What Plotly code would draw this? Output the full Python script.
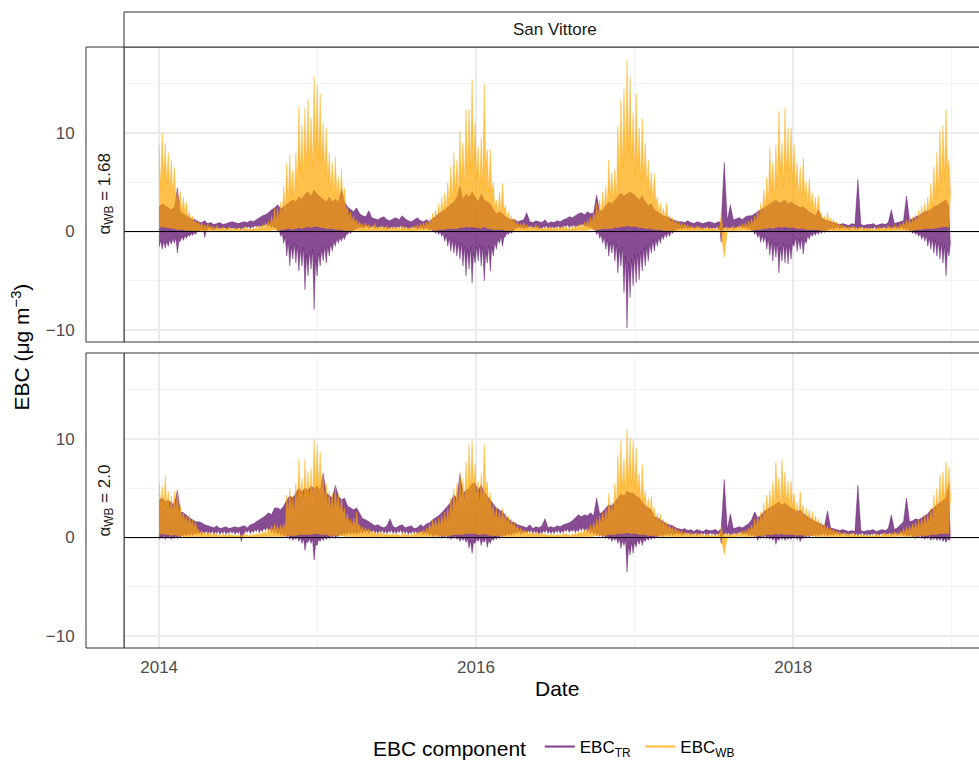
import plotly.graph_objects as go
import pandas as pd

# ---------------- data (one value per week, 261 weeks) ----------------
start_date = "2014-01-01"
# *_hi = weekly maximum, *_lo = weekly minimum, *_typ = typical level between the spikes

# ---- alpha_WB = 1.68 panel ----
wb_hi_168 = [
    8.8, 10.0, 9.0, 8.0, 7.2, 6.5, 4.2, 4.0, 3.5, 3.0, 2.0, 1.6, 1.2,
    1.0, 0.9, 0.7, 0.8, 0.6, 0.5, 0.6, 0.4, 0.5, 0.4, 0.5, 0.3, 0.4,
    0.4, 0.3, 0.5, 0.4, 0.3, 0.4, 0.5, 0.6, 0.7, 0.9, 1.1, 1.6, 2.4,
    2.4, 3.0, 4.6, 6.9, 7.8, 6.2, 8.0, 12.7, 10.8, 12.5, 13.4, 11.5, 15.7,
    14.9, 14.0, 11.0, 10.5, 8.0, 7.0, 7.6, 5.5, 6.3, 4.4, 2.6, 2.0, 1.6,
    1.2, 1.0, 0.8, 0.9, 0.7, 0.6, 0.8, 0.5, 0.6, 0.5, 0.6, 0.4, 0.5,
    0.5, 0.4, 0.6, 0.5, 0.4, 0.5, 0.6, 0.7, 0.8, 0.9, 1.0, 1.3, 1.9,
    2.2, 2.8, 3.5, 3.9, 5.0, 6.6, 8.0, 7.2, 10.2, 9.0, 12.4, 12.4, 15.4,
    11.0, 8.6, 9.5, 14.9, 8.3, 8.3, 5.0, 3.2, 4.0, 4.9, 2.6, 2.0, 1.6,
    1.2, 1.0, 0.8, 0.9, 0.7, 0.6, 0.5, 0.7, 0.5, 0.4, 0.5, 0.4, 0.5,
    0.4, 0.5, 0.4, 0.6, 0.5, 0.4, 0.5, 0.6, 0.7, 0.8, 1.0, 1.2, 1.5,
    2.0, 2.9, 3.2, 4.0, 4.6, 7.3, 6.0, 6.3, 10.7, 13.4, 14.4, 17.4, 15.7,
    12.0, 14.0, 10.5, 11.5, 9.0, 7.3, 6.0, 5.9, 3.5, 2.9, 2.4, 2.9, 1.6,
    1.4, 1.2, 1.0, 0.9, 0.8, 0.7, 0.6, 0.5, 0.6, 0.5, 0.4, 0.5, 0.4,
    0.4, 0.3, 0.5, 1.8, 0.4, 0.5, 0.4, 0.6, 0.5, 0.7, 0.8, 0.9, 1.1,
    1.3, 1.6, 2.2, 2.9, 4.3, 5.5, 8.5, 7.0, 8.8, 12.2, 9.0, 12.5, 10.5,
    10.5, 8.8, 7.0, 6.6, 7.5, 5.0, 5.4, 3.9, 3.5, 3.6, 1.9, 1.6, 1.9,
    1.4, 1.2, 1.0, 0.8, 0.7, 0.6, 0.5, 0.6, 0.5, 0.4, 0.5, 0.4, 0.4,
    0.4, 0.3, 0.4, 0.5, 0.4, 0.5, 0.6, 0.5, 0.7, 0.6, 0.8, 1.0, 1.2,
    1.3, 1.5, 1.7, 2.2, 2.6, 2.9, 3.5, 4.9, 6.6, 8.0, 10.3, 10.7, 12.4,
    7.3,
]
wb_typ_168 = [
    4.5, 5.2, 4.8, 4.0, 3.6, 3.0, 2.4, 2.0, 1.8, 1.4, 1.0, 0.8, 0.6,
    0.5, 0.4, 0.3, 0.3, 0.3, 0.2, 0.2, 0.2, 0.2, 0.2, 0.2, 0.1, 0.2,
    0.2, 0.1, 0.2, 0.2, 0.1, 0.2, 0.2, 0.3, 0.3, 0.4, 0.5, 0.7, 1.0,
    1.2, 1.5, 2.2, 3.0, 3.8, 3.2, 4.5, 6.0, 5.5, 6.5, 7.0, 6.5, 8.0,
    7.5, 7.0, 6.0, 5.0, 4.2, 3.5, 3.6, 2.8, 3.0, 2.0, 1.3, 1.0, 0.8,
    0.6, 0.5, 0.4, 0.4, 0.3, 0.3, 0.3, 0.2, 0.3, 0.2, 0.3, 0.2, 0.2,
    0.2, 0.2, 0.3, 0.2, 0.2, 0.2, 0.3, 0.3, 0.4, 0.4, 0.5, 0.6, 0.9,
    1.1, 1.4, 1.7, 2.0, 2.6, 3.2, 4.0, 3.6, 5.0, 4.6, 6.0, 6.2, 7.0,
    5.5, 4.4, 4.6, 6.5, 4.0, 4.0, 2.4, 1.6, 2.0, 2.2, 1.3, 1.0, 0.8,
    0.6, 0.5, 0.4, 0.4, 0.3, 0.3, 0.2, 0.3, 0.2, 0.2, 0.2, 0.2, 0.2,
    0.2, 0.2, 0.2, 0.3, 0.2, 0.2, 0.2, 0.3, 0.3, 0.4, 0.5, 0.6, 0.7,
    1.0, 1.4, 1.6, 2.0, 2.3, 3.5, 3.0, 3.2, 5.2, 6.5, 7.0, 8.0, 7.5,
    6.0, 6.5, 5.2, 5.5, 4.5, 3.6, 3.0, 2.9, 1.8, 1.4, 1.2, 1.4, 0.8,
    0.7, 0.6, 0.5, 0.4, 0.4, 0.3, 0.3, 0.2, 0.3, 0.2, 0.2, 0.2, 0.2,
    0.2, 0.1, 0.2, 0.3, 0.2, 0.2, 0.2, 0.3, 0.2, 0.3, 0.4, 0.4, 0.5,
    0.6, 0.8, 1.1, 1.4, 2.2, 2.8, 4.2, 3.5, 4.4, 6.0, 4.5, 6.0, 5.2,
    5.2, 4.4, 3.5, 3.3, 3.6, 2.5, 2.6, 2.0, 1.8, 1.8, 1.0, 0.8, 0.9,
    0.7, 0.6, 0.5, 0.4, 0.3, 0.3, 0.2, 0.3, 0.2, 0.2, 0.2, 0.2, 0.2,
    0.2, 0.1, 0.2, 0.2, 0.2, 0.2, 0.3, 0.2, 0.3, 0.3, 0.4, 0.5, 0.6,
    0.6, 0.7, 0.8, 1.1, 1.3, 1.4, 1.8, 2.4, 3.3, 4.0, 5.0, 5.4, 6.0,
    3.5,
]
wb_lo_168 = [
    0.4, 0.5, 0.4, 0.4, 0.3, 0.3, 0.2, 0.2, 0.2, 0.1, 0.1, 0.1, 0.1,
    0.1, 0.0, 0.1, 0.0, 0.0, 0.1, 0.0, 0.0, 0.1, 0.0, 0.0, 0.0, 0.0,
    0.0, 0.0, 0.1, 0.0, 0.0, 0.0, 0.1, 0.0, 0.1, 0.1, 0.1, 0.1, 0.2,
    0.1, 0.2, 0.2, 0.3, 0.3, 0.2, 0.3, 0.4, 0.3, 0.4, 0.5, 0.4, 0.5,
    0.5, 0.4, 0.4, 0.3, 0.3, 0.3, 0.2, 0.2, 0.2, 0.1, 0.1, 0.1, 0.1,
    0.1, 0.0, 0.1, 0.0, 0.0, 0.1, 0.0, 0.0, 0.1, 0.0, 0.0, 0.0, 0.0,
    0.0, 0.0, 0.1, 0.0, 0.0, 0.0, 0.1, 0.0, 0.1, 0.1, 0.1, 0.1, 0.2,
    0.1, 0.2, 0.2, 0.2, 0.3, 0.3, 0.3, 0.3, 0.4, 0.4, 0.5, 0.4, 0.5,
    0.4, 0.4, 0.3, 0.5, 0.3, 0.3, 0.2, 0.2, 0.2, 0.2, 0.1, 0.1, 0.1,
    0.1, 0.0, 0.1, 0.0, 0.0, 0.1, 0.0, 0.0, 0.1, 0.0, 0.0, 0.0, 0.0,
    0.0, 0.0, 0.1, 0.0, 0.0, 0.0, 0.1, 0.0, 0.1, 0.1, 0.1, 0.1, 0.2,
    0.2, 0.2, 0.2, 0.3, 0.3, 0.3, 0.3, 0.4, 0.4, 0.5, 0.5, 0.6, 0.5,
    0.5, 0.5, 0.4, 0.4, 0.3, 0.3, 0.3, 0.2, 0.2, 0.2, 0.1, 0.1, 0.1,
    0.1, 0.0, 0.1, 0.0, 0.0, 0.1, 0.0, 0.0, 0.1, 0.0, 0.0, 0.0, 0.0,
    0.0, 0.0, 0.1, -0.2, -2.6, 0.0, 0.1, 0.0, 0.1, 0.1, 0.1, 0.1, 0.1,
    0.1, 0.2, 0.2, 0.2, 0.3, 0.3, 0.4, 0.3, 0.4, 0.5, 0.4, 0.5, 0.4,
    0.4, 0.4, 0.3, 0.3, 0.3, 0.2, 0.2, 0.2, 0.2, 0.2, 0.1, 0.1, 0.1,
    0.1, 0.0, 0.1, 0.0, 0.0, 0.1, 0.0, 0.0, 0.1, 0.0, 0.0, 0.0, 0.0,
    0.0, 0.0, 0.1, 0.0, 0.0, 0.0, 0.1, 0.0, 0.1, 0.1, 0.1, 0.1, 0.1,
    0.1, 0.1, 0.2, 0.2, 0.2, 0.3, 0.3, 0.3, 0.3, 0.4, 0.4, 0.5, 0.5,
    0.4,
]
tr_hi_168 = [
    2.5, 2.8, 2.6, 2.4, 2.2, 2.5, 4.4, 2.0, 1.8, 1.6, 1.4, 1.2, 1.2,
    1.0, 0.9, 1.1, 0.8, 0.9, 0.7, 0.8, 0.9, 0.7, 0.8, 0.9, 1.0, 0.9,
    0.8, 0.9, 1.0, 0.9, 1.1, 1.0, 1.2, 1.4, 1.6, 1.7, 1.9, 2.2, 2.4,
    2.7, 2.3, 2.5, 2.8, 3.0, 3.2, 3.0, 3.5, 3.3, 3.8, 4.0, 3.6, 4.2,
    3.8, 3.5, 3.2, 3.0, 3.5, 3.0, 3.3, 3.0, 4.3, 3.0, 2.5, 2.2, 2.0,
    2.4, 1.8, 1.6, 1.5, 2.1, 1.4, 1.3, 1.2, 1.4, 1.5, 1.2, 1.1, 1.3,
    1.4, 1.2, 1.6, 1.3, 1.1, 1.0, 1.2, 1.4, 1.1, 1.0, 1.2, 1.0, 1.3,
    1.5, 1.8, 2.0, 2.2, 2.5, 2.8, 3.0, 3.5, 4.6, 3.2, 3.8, 3.5, 4.0,
    3.5, 3.0, 3.8, 3.2, 3.0, 2.8, 2.2, 1.8, 2.0, 1.8, 1.5, 1.3, 1.2,
    1.2, 1.0, 1.1, 1.2, 1.9, 1.0, 0.9, 1.1, 1.0, 0.9, 1.2, 0.8, 1.0,
    0.9, 1.1, 1.0, 1.2, 1.3, 1.5, 1.4, 1.6, 1.8, 1.9, 1.7, 2.0, 1.8,
    1.9, 3.7, 2.0, 2.2, 2.6, 3.0, 2.8, 3.2, 3.5, 3.9, 3.6, 3.8, 4.0,
    3.8, 3.5, 3.2, 3.6, 3.0, 2.6, 2.8, 2.2, 2.0, 1.8, 1.6, 1.5, 1.4,
    1.2, 1.1, 1.0, 1.0, 0.9, 1.1, 0.9, 0.8, 1.0, 0.9, 0.8, 0.9, 1.0,
    0.9, 0.8, 1.0, 0.9, 7.0, 1.1, 2.7, 1.2, 1.3, 1.4, 1.2, 1.5, 1.6,
    1.6, 1.8, 2.0, 2.2, 2.4, 2.6, 2.8, 3.0, 3.2, 2.9, 3.0, 3.2, 2.8,
    3.0, 2.8, 2.6, 2.4, 2.5, 2.2, 2.0, 1.8, 1.6, 2.2, 1.4, 1.2, 1.1,
    1.0, 0.9, 0.8, 0.7, 0.8, 0.7, 0.6, 0.8, 0.7, 5.3, 0.7, 0.6, 0.7,
    0.7, 0.8, 0.6, 0.7, 0.8, 0.7, 0.9, 2.2, 0.8, 0.9, 1.0, 1.1, 3.6,
    1.2, 1.3, 1.5, 1.6, 1.8, 2.0, 2.1, 2.2, 2.5, 2.6, 2.8, 3.0, 3.2,
    2.5,
]
tr_typ_168 = [
    -0.9, -1.0, -1.0, -0.8, -0.7, -0.6, -1.0, -0.5, -0.4, -0.3, -0.2, -0.1, 0.0,
    0.2, 0.3, 0.1, 0.4, 0.3, 0.3, 0.4, 0.4, 0.4, 0.3, 0.4, 0.4, 0.3,
    0.4, 0.4, 0.5, 0.5, 0.5, 0.6, 0.6, 0.6, 0.7, 0.8, 0.7, 0.6, 0.5,
    0.2, -0.2, -0.5, -1.0, -1.5, -1.2, -1.4, -1.8, -1.6, -2.4, -2.0, -1.8, -2.8,
    -2.2, -1.8, -1.5, -1.5, -1.2, -1.0, -0.7, -0.6, -0.5, -0.3, 0.0, 0.1, 0.3,
    0.5, 0.5, 0.5, 0.6, 0.5, 0.6, 0.5, 0.5, 0.6, 0.5, 0.4, 0.5, 0.5,
    0.5, 0.6, 0.5, 0.5, 0.4, 0.5, 0.5, 0.4, 0.5, 0.4, 0.4, 0.3, 0.2,
    0.1, 0.0, -0.2, -0.4, -0.6, -0.8, -1.0, -1.1, -1.2, -1.5, -1.8, -1.6, -2.2,
    -1.5, -1.3, -1.5, -2.0, -1.4, -1.6, -1.1, -0.8, -0.5, -0.6, -0.1, 0.0, 0.1,
    0.4, 0.5, 0.5, 0.4, 0.5, 0.6, 0.5, 0.5, 0.4, 0.5, 0.6, 0.5, 0.5,
    0.5, 0.6, 0.5, 0.6, 0.7, 0.6, 0.7, 0.6, 0.7, 0.8, 0.7, 0.6, 0.5,
    0.3, 0.0, -0.3, -0.5, -0.8, -1.1, -1.0, -1.3, -1.8, -1.5, -2.5, -3.2, -2.8,
    -2.4, -2.2, -2.0, -1.7, -1.5, -1.2, -0.9, -0.8, -0.6, -0.4, -0.2, -0.1, 0.0,
    0.1, 0.3, 0.4, 0.4, 0.5, 0.4, 0.5, 0.4, 0.5, 0.4, 0.4, 0.5, 0.4,
    0.4, 0.5, 0.4, 0.2, 0.5, 0.4, 0.5, 0.4, 0.5, 0.6, 0.5, 0.5, 0.4,
    0.2, 0.0, -0.2, -0.4, -0.4, -0.7, -1.0, -1.2, -1.1, -1.6, -1.2, -1.3, -1.4,
    -1.2, -0.6, -0.8, -0.7, -0.9, -0.4, -0.2, -0.1, 0.0, 0.1, 0.1, 0.2, 0.3,
    0.4, 0.4, 0.5, 0.4, 0.5, 0.4, 0.4, 0.5, 0.4, 0.4, 0.5, 0.4, 0.4,
    0.4, 0.5, 0.4, 0.4, 0.5, 0.4, 0.5, 0.4, 0.5, 0.4, 0.5, 0.4, 0.3,
    0.2, 0.0, -0.1, -0.2, -0.3, -0.4, -0.6, -0.7, -0.9, -1.0, -1.2, -1.4, -1.8,
    -1.0,
]
tr_lo_168 = [
    -1.6, -1.8, -1.7, -1.5, -1.3, -1.2, -2.2, -1.0, -0.9, -0.7, -0.5, -0.4, -0.3,
    0.0, 0.1, -0.6, 0.2, 0.2, 0.1, 0.3, 0.2, 0.3, 0.2, 0.3, 0.3, 0.2,
    0.3, 0.2, 0.3, 0.4, 0.3, 0.4, 0.5, 0.4, 0.5, 0.6, 0.5, 0.4, 0.3,
    0.0, -0.5, -1.2, -2.5, -3.5, -2.8, -3.2, -4.0, -3.5, -5.9, -4.5, -3.8, -7.9,
    -4.5, -3.5, -3.0, -3.2, -2.5, -2.0, -1.5, -1.2, -1.0, -0.8, -0.3, -0.2, 0.1,
    0.2, 0.3, 0.3, 0.4, 0.3, 0.4, 0.3, 0.3, 0.4, 0.3, 0.2, 0.3, 0.3,
    0.3, 0.4, 0.3, 0.3, 0.2, 0.3, 0.3, 0.2, 0.3, 0.2, 0.3, 0.1, 0.0,
    -0.2, -0.3, -0.5, -1.0, -1.5, -2.0, -2.2, -2.5, -2.8, -3.5, -4.5, -3.8, -5.2,
    -3.2, -3.0, -3.5, -5.0, -3.2, -4.0, -2.5, -1.8, -1.2, -1.5, -0.5, -0.3, -0.2,
    0.2, 0.3, 0.3, 0.2, 0.3, 0.4, 0.3, 0.3, 0.2, 0.3, 0.4, 0.3, 0.3,
    0.3, 0.4, 0.3, 0.4, 0.5, 0.4, 0.5, 0.4, 0.5, 0.6, 0.5, 0.4, 0.3,
    0.1, -0.3, -0.7, -1.2, -1.8, -2.5, -2.2, -3.0, -4.2, -3.5, -6.2, -9.8, -6.7,
    -5.5, -5.2, -4.9, -4.0, -3.5, -3.0, -2.2, -2.0, -1.5, -1.2, -0.8, -0.6, -0.5,
    -0.2, 0.1, 0.2, 0.2, 0.3, 0.2, 0.3, 0.2, 0.3, 0.2, 0.2, 0.3, 0.2,
    0.2, 0.3, 0.2, -1.1, 0.3, 0.2, 0.3, 0.2, 0.3, 0.4, 0.3, 0.3, 0.2,
    0.0, -0.3, -0.6, -1.1, -1.1, -1.8, -2.4, -3.0, -2.6, -4.2, -3.0, -3.2, -3.3,
    -2.8, -1.5, -2.0, -1.8, -2.3, -1.2, -0.8, -0.5, -0.4, -0.3, -0.2, -0.1, 0.1,
    0.2, 0.2, 0.3, 0.2, 0.3, 0.2, 0.2, 0.3, 0.2, 0.2, 0.3, 0.2, 0.2,
    0.2, 0.3, 0.2, 0.2, 0.3, 0.2, 0.3, 0.2, 0.3, 0.2, 0.3, 0.2, 0.1,
    0.0, -0.2, -0.3, -0.5, -0.8, -1.0, -1.5, -1.8, -2.2, -2.5, -2.8, -3.2, -4.5,
    -2.5,
]

# ---- alpha_WB = 2.0 panel ----
wb_hi_20 = [
    5.7, 5.2, 6.2, 4.7, 4.2, 4.7, 4.8, 3.2, 2.6, 2.2, 2.3, 1.8, 1.6,
    0.8, 0.7, 0.5, 0.6, 0.4, 0.5, 0.4, 0.3, 0.4, 0.3, 0.4, 0.3, 0.3,
    0.3, 0.3, 0.4, 0.3, 0.3, 0.4, 0.4, 0.5, 0.6, 0.7, 0.9, 1.2, 1.4,
    1.2, 1.3, 1.4, 4.3, 5.0, 4.2, 5.5, 7.9, 6.0, 7.9, 6.7, 7.0, 9.9,
    9.4, 8.7, 6.5, 5.5, 4.7, 4.5, 5.3, 4.4, 4.0, 3.0, 2.4, 1.9, 2.0,
    2.6, 1.3, 1.1, 1.0, 0.9, 0.7, 0.6, 0.5, 0.6, 0.4, 0.5, 0.4, 0.4,
    0.4, 0.3, 0.5, 0.4, 0.3, 0.4, 0.5, 0.6, 0.7, 0.8, 1.0, 1.4, 1.8,
    1.8, 2.0, 2.3, 2.6, 3.0, 4.0, 5.0, 5.5, 6.7, 6.0, 7.7, 9.4, 9.8,
    7.5, 5.7, 6.5, 9.4, 5.7, 4.5, 3.3, 3.0, 2.8, 3.0, 2.5, 2.2, 1.9,
    1.5, 1.2, 1.0, 0.8, 0.7, 0.6, 0.5, 0.6, 0.4, 0.5, 0.4, 0.3, 0.4,
    0.3, 0.4, 0.3, 0.5, 0.4, 0.3, 0.4, 0.5, 0.6, 0.7, 0.8, 1.0, 1.3,
    1.5, 1.9, 2.2, 2.6, 3.0, 4.5, 3.6, 5.5, 8.4, 9.8, 8.0, 11.0, 10.1,
    9.8, 9.1, 6.5, 7.4, 4.7, 4.0, 4.2, 3.0, 2.5, 2.4, 1.9, 1.6, 1.3,
    1.1, 1.0, 0.8, 0.7, 0.6, 0.5, 0.5, 0.4, 0.5, 0.4, 0.3, 0.4, 0.3,
    0.3, 0.3, 0.4, 1.1, 0.4, 0.4, 0.3, 0.5, 0.4, 0.6, 0.7, 0.8, 1.0,
    1.3, 1.9, 2.2, 2.6, 3.5, 4.3, 4.8, 5.7, 7.7, 6.0, 7.9, 6.7, 5.7,
    5.7, 4.5, 3.6, 4.7, 3.3, 3.0, 2.8, 2.6, 2.2, 1.9, 1.6, 1.4, 1.2,
    1.0, 0.9, 0.7, 0.6, 0.5, 0.5, 0.4, 0.5, 0.4, 0.3, 0.4, 0.3, 0.3,
    0.3, 0.3, 0.4, 0.3, 0.4, 0.5, 0.4, 0.5, 0.6, 0.5, 0.7, 0.9, 1.1,
    1.2, 1.4, 1.6, 1.8, 2.0, 2.3, 2.4, 3.0, 4.3, 5.0, 6.4, 6.7, 7.7,
    7.2,
]
wb_typ_20 = [
    3.2, 2.8, 3.2, 2.6, 2.4, 2.6, 2.5, 1.8, 1.5, 1.2, 1.2, 1.0, 0.8,
    0.4, 0.3, 0.2, 0.3, 0.2, 0.2, 0.2, 0.1, 0.2, 0.1, 0.2, 0.1, 0.1,
    0.1, 0.1, 0.2, 0.1, 0.1, 0.2, 0.2, 0.2, 0.3, 0.3, 0.4, 0.6, 0.7,
    0.6, 0.7, 0.8, 2.4, 2.8, 2.4, 3.0, 4.2, 3.4, 4.2, 3.6, 3.8, 5.0,
    5.0, 4.6, 3.6, 3.0, 2.6, 2.5, 2.8, 2.4, 2.2, 1.6, 1.3, 1.0, 1.0,
    1.2, 0.7, 0.6, 0.5, 0.4, 0.3, 0.3, 0.2, 0.3, 0.2, 0.2, 0.2, 0.2,
    0.2, 0.1, 0.2, 0.2, 0.1, 0.2, 0.2, 0.3, 0.3, 0.4, 0.5, 0.7, 0.9,
    0.9, 1.0, 1.2, 1.4, 1.6, 2.2, 2.8, 3.0, 3.6, 3.3, 4.0, 4.8, 5.0,
    4.0, 3.2, 3.5, 4.8, 3.1, 2.5, 1.8, 1.6, 1.5, 1.6, 1.3, 1.1, 1.0,
    0.8, 0.6, 0.5, 0.4, 0.3, 0.3, 0.2, 0.3, 0.2, 0.2, 0.2, 0.1, 0.2,
    0.1, 0.2, 0.1, 0.2, 0.2, 0.1, 0.2, 0.2, 0.3, 0.3, 0.4, 0.5, 0.6,
    0.8, 1.0, 1.2, 1.4, 1.6, 2.4, 2.0, 2.8, 4.2, 4.8, 4.2, 5.4, 5.2,
    5.0, 4.6, 3.5, 3.8, 2.6, 2.2, 2.3, 1.6, 1.3, 1.2, 1.0, 0.8, 0.7,
    0.5, 0.5, 0.4, 0.3, 0.3, 0.2, 0.2, 0.2, 0.2, 0.2, 0.1, 0.2, 0.1,
    0.1, 0.1, 0.2, 0.3, 0.2, 0.2, 0.1, 0.2, 0.2, 0.3, 0.3, 0.4, 0.5,
    0.7, 1.0, 1.2, 1.4, 1.9, 2.3, 2.6, 3.0, 4.0, 3.2, 4.0, 3.5, 3.0,
    3.0, 2.4, 2.0, 2.5, 1.8, 1.6, 1.5, 1.4, 1.2, 1.0, 0.8, 0.7, 0.6,
    0.5, 0.4, 0.3, 0.3, 0.2, 0.2, 0.2, 0.2, 0.2, 0.1, 0.2, 0.1, 0.1,
    0.1, 0.1, 0.2, 0.1, 0.2, 0.2, 0.2, 0.2, 0.3, 0.2, 0.3, 0.4, 0.5,
    0.6, 0.7, 0.8, 0.9, 1.0, 1.2, 1.3, 1.6, 2.3, 2.7, 3.4, 3.6, 4.0,
    3.8,
]
wb_lo_20 = [
    0.3, 0.4, 0.3, 0.3, 0.2, 0.3, 0.2, 0.2, 0.1, 0.1, 0.1, 0.1, 0.1,
    0.1, 0.0, 0.1, 0.0, 0.0, 0.1, 0.0, 0.0, 0.1, 0.0, 0.0, 0.0, 0.0,
    0.0, 0.0, 0.1, 0.0, 0.0, 0.0, 0.1, 0.0, 0.1, 0.1, 0.1, 0.1, 0.1,
    0.1, 0.1, 0.1, 0.2, 0.2, 0.2, 0.2, 0.3, 0.3, 0.3, 0.3, 0.3, 0.4,
    0.4, 0.3, 0.3, 0.3, 0.2, 0.2, 0.2, 0.2, 0.2, 0.1, 0.1, 0.1, 0.1,
    0.1, 0.0, 0.1, 0.0, 0.0, 0.1, 0.0, 0.0, 0.1, 0.0, 0.0, 0.0, 0.0,
    0.0, 0.0, 0.1, 0.0, 0.0, 0.0, 0.1, 0.0, 0.1, 0.1, 0.1, 0.1, 0.1,
    0.1, 0.1, 0.2, 0.2, 0.2, 0.2, 0.3, 0.3, 0.3, 0.3, 0.4, 0.4, 0.4,
    0.4, 0.3, 0.3, 0.4, 0.3, 0.2, 0.2, 0.2, 0.2, 0.1, 0.1, 0.1, 0.1,
    0.1, 0.0, 0.1, 0.0, 0.0, 0.1, 0.0, 0.0, 0.1, 0.0, 0.0, 0.0, 0.0,
    0.0, 0.0, 0.1, 0.0, 0.0, 0.0, 0.1, 0.0, 0.1, 0.1, 0.1, 0.1, 0.1,
    0.1, 0.2, 0.2, 0.2, 0.2, 0.3, 0.3, 0.3, 0.4, 0.4, 0.4, 0.5, 0.4,
    0.4, 0.4, 0.3, 0.3, 0.3, 0.2, 0.2, 0.2, 0.2, 0.1, 0.1, 0.1, 0.1,
    0.1, 0.0, 0.1, 0.0, 0.0, 0.1, 0.0, 0.0, 0.1, 0.0, 0.0, 0.0, 0.0,
    0.0, 0.0, 0.1, -0.1, -1.7, 0.0, 0.1, 0.0, 0.1, 0.1, 0.1, 0.1, 0.1,
    0.1, 0.1, 0.2, 0.2, 0.2, 0.3, 0.3, 0.3, 0.4, 0.3, 0.4, 0.3, 0.3,
    0.3, 0.3, 0.2, 0.3, 0.2, 0.2, 0.2, 0.2, 0.1, 0.1, 0.1, 0.1, 0.1,
    0.1, 0.0, 0.1, 0.0, 0.0, 0.1, 0.0, 0.0, 0.1, 0.0, 0.0, 0.0, 0.0,
    0.0, 0.0, 0.1, 0.0, 0.0, 0.0, 0.1, 0.0, 0.1, 0.1, 0.1, 0.1, 0.1,
    0.1, 0.1, 0.1, 0.2, 0.2, 0.2, 0.2, 0.3, 0.3, 0.3, 0.4, 0.4, 0.4,
    0.4,
]
tr_hi_20 = [
    3.8, 4.0, 3.6, 3.8, 3.5, 3.4, 4.8, 2.6, 2.5, 2.2, 2.0, 1.8, 1.6,
    1.6, 1.5, 1.3, 1.2, 1.1, 1.0, 1.2, 0.9, 1.0, 1.1, 0.9, 1.0, 1.1,
    1.0, 1.1, 1.2, 1.0, 1.3, 1.4, 1.6, 1.8, 2.0, 2.2, 2.5, 2.3, 3.0,
    3.0, 2.8, 3.2, 3.8, 4.2, 4.0, 4.5, 5.0, 4.6, 5.0, 4.8, 5.2, 5.0,
    5.2, 4.8, 6.5, 4.5, 4.2, 4.0, 5.3, 4.2, 3.8, 4.0, 3.2, 3.0, 2.8,
    3.0, 2.4, 1.9, 1.8, 1.6, 1.4, 1.2, 1.3, 1.1, 1.0, 1.2, 1.9, 1.1,
    1.0, 1.2, 1.3, 1.0, 1.1, 1.2, 0.9, 1.0, 1.3, 1.1, 1.4, 1.5, 1.8,
    2.0, 2.2, 2.5, 2.8, 3.2, 3.6, 4.3, 4.0, 6.4, 4.5, 4.8, 5.0, 5.5,
    5.5, 4.8, 5.3, 4.6, 4.2, 3.8, 3.4, 3.0, 2.8, 2.6, 2.2, 1.9, 1.6,
    1.5, 1.3, 1.2, 1.1, 1.0, 1.3, 0.9, 1.1, 1.0, 1.2, 1.9, 1.0, 1.1,
    1.0, 1.2, 1.1, 1.3, 1.4, 1.5, 1.7, 2.0, 2.3, 2.1, 2.3, 2.2, 2.5,
    2.2, 4.0, 2.4, 2.6, 3.0, 3.3, 3.2, 3.6, 4.0, 4.4, 4.2, 4.7, 4.5,
    4.5, 4.2, 4.0, 3.6, 3.2, 3.0, 2.8, 2.1, 2.0, 1.8, 1.6, 1.4, 1.3,
    1.2, 1.0, 0.9, 0.8, 0.9, 0.7, 0.8, 0.6, 0.8, 0.7, 0.6, 0.8, 0.7,
    0.7, 0.8, 0.6, 0.9, 5.9, 0.8, 2.4, 0.9, 1.0, 1.1, 1.0, 1.2, 1.4,
    1.8, 2.6, 2.0, 2.2, 2.6, 2.8, 3.0, 3.2, 3.4, 3.6, 3.3, 3.5, 3.2,
    3.0, 2.8, 2.6, 2.8, 2.4, 2.2, 2.0, 1.8, 1.6, 1.5, 1.3, 1.2, 2.7,
    1.0, 0.9, 0.8, 0.7, 0.8, 0.7, 0.6, 0.7, 0.6, 5.3, 0.7, 0.6, 0.7,
    0.7, 0.8, 0.6, 0.7, 0.8, 0.7, 0.9, 2.3, 0.8, 1.0, 1.3, 1.6, 4.0,
    1.6, 1.7, 1.9, 1.8, 2.0, 2.2, 2.4, 2.8, 3.0, 3.3, 3.6, 3.8, 4.0,
    5.5,
]
tr_typ_20 = [
    0.1, 0.2, 0.1, 0.2, 0.1, 0.2, 0.2, 0.3, 0.4, 0.4, 0.5, 0.5, 0.6,
    0.6, 0.6, 0.7, 0.6, 0.7, 0.6, 0.7, 0.6, 0.7, 0.6, 0.7, 0.7, 0.6,
    0.7, 0.3, 0.7, 0.8, 0.7, 0.8, 0.9, 0.8, 1.0, 1.1, 1.0, 0.9, 0.8,
    0.6, 0.5, 0.4, 0.3, 0.1, 0.0, 0.1, 0.0, -0.1, -0.4, -0.1, -0.2, -0.7,
    -0.2, 0.0, 0.1, 0.1, 0.2, 0.3, 0.2, 0.4, 0.5, 0.5, 0.6, 0.6, 0.6,
    0.6, 0.7, 0.7, 0.8, 0.7, 0.8, 0.7, 0.7, 0.8, 0.7, 0.7, 0.8, 0.7,
    0.7, 0.8, 0.7, 0.7, 0.6, 0.7, 0.7, 0.6, 0.7, 0.6, 0.6, 0.5, 0.4,
    0.4, 0.3, 0.2, 0.3, 0.2, 0.1, 0.2, 0.1, 0.0, 0.0, -0.1, -0.3, -0.5,
    -0.1, 0.0, -0.2, 0.0, -0.3, -0.1, 0.1, 0.2, 0.3, 0.3, 0.4, 0.5, 0.5,
    0.6, 0.7, 0.6, 0.7, 0.7, 0.8, 0.7, 0.7, 0.6, 0.7, 0.8, 0.7, 0.7,
    0.7, 0.8, 0.7, 0.8, 0.9, 0.8, 0.9, 0.8, 1.0, 1.1, 1.0, 0.9, 0.8,
    0.6, 0.5, 0.4, 0.3, 0.2, 0.1, 0.0, 0.0, -0.1, -0.3, -0.2, -0.9, -0.5,
    -0.4, -0.2, -0.1, -0.2, 0.0, 0.1, 0.1, 0.2, 0.3, 0.4, 0.4, 0.5, 0.5,
    0.4, 0.5, 0.5, 0.4, 0.5, 0.5, 0.4, 0.5, 0.4, 0.5, 0.5, 0.4, 0.5,
    0.5, 0.4, 0.5, 0.2, 0.5, 0.5, 0.4, 0.5, 0.5, 0.6, 0.5, 0.5, 0.4,
    0.4, 0.3, 0.1, 0.2, 0.3, 0.2, 0.1, 0.1, -0.1, 0.1, 0.1, 0.0, 0.1,
    0.1, 0.2, 0.1, 0.0, 0.2, 0.3, 0.3, 0.4, 0.4, 0.4, 0.5, 0.5, 0.4,
    0.4, 0.4, 0.5, 0.4, 0.5, 0.4, 0.4, 0.5, 0.4, 0.4, 0.5, 0.4, 0.4,
    0.4, 0.5, 0.4, 0.4, 0.5, 0.4, 0.5, 0.4, 0.5, 0.4, 0.5, 0.4, 0.3,
    0.4, 0.3, 0.2, 0.3, 0.2, 0.1, 0.2, 0.0, 0.1, 0.0, 0.0, -0.1, -0.1,
    0.0,
]
tr_lo_20 = [
    -0.2, -0.1, -0.2, -0.1, -0.2, -0.1, -0.1, 0.0, 0.1, 0.1, 0.2, 0.2, 0.3,
    0.3, 0.3, 0.4, 0.3, 0.4, 0.3, 0.4, 0.3, 0.4, 0.3, 0.4, 0.4, 0.3,
    0.4, -0.4, 0.4, 0.5, 0.4, 0.5, 0.6, 0.5, 0.6, 0.7, 0.6, 0.5, 0.4,
    0.3, 0.2, 0.1, 0.0, -0.2, -0.3, -0.2, -0.4, -0.6, -1.3, -0.5, -0.6, -2.3,
    -0.8, -0.4, -0.3, -0.2, -0.1, 0.0, -0.1, 0.1, 0.2, 0.2, 0.3, 0.3, 0.3,
    0.3, 0.4, 0.4, 0.5, 0.4, 0.5, 0.4, 0.4, 0.5, 0.4, 0.4, 0.5, 0.4,
    0.4, 0.5, 0.4, 0.4, 0.3, 0.4, 0.4, 0.3, 0.4, 0.3, 0.3, 0.2, 0.1,
    0.1, 0.0, -0.1, 0.0, -0.1, -0.2, -0.1, -0.2, -0.4, -0.3, -0.5, -1.1, -1.6,
    -0.6, -0.4, -0.8, -0.5, -1.0, -0.6, -0.3, -0.2, -0.1, 0.0, 0.1, 0.2, 0.2,
    0.3, 0.4, 0.3, 0.4, 0.4, 0.5, 0.4, 0.4, 0.3, 0.4, 0.5, 0.4, 0.4,
    0.4, 0.5, 0.4, 0.5, 0.6, 0.5, 0.6, 0.5, 0.6, 0.7, 0.6, 0.5, 0.4,
    0.3, 0.2, 0.1, 0.0, -0.1, -0.2, -0.4, -0.3, -0.6, -1.1, -0.8, -3.5, -1.8,
    -1.6, -1.0, -0.7, -0.8, -0.4, -0.3, -0.2, -0.1, 0.0, 0.1, 0.1, 0.2, 0.2,
    0.2, 0.3, 0.3, 0.2, 0.3, 0.3, 0.2, 0.3, 0.2, 0.3, 0.3, 0.2, 0.3,
    0.3, 0.2, 0.3, -0.6, 0.3, 0.3, 0.2, 0.3, 0.3, 0.4, 0.3, 0.3, 0.2,
    0.1, 0.0, -0.3, -0.1, 0.0, -0.1, -0.2, -0.3, -0.7, -0.3, -0.2, -0.3, -0.2,
    -0.2, -0.1, -0.2, -0.4, -0.1, 0.0, 0.0, 0.1, 0.1, 0.1, 0.2, 0.2, 0.1,
    0.2, 0.2, 0.3, 0.2, 0.3, 0.2, 0.2, 0.3, 0.2, 0.2, 0.3, 0.2, 0.2,
    0.2, 0.3, 0.2, 0.2, 0.3, 0.2, 0.3, 0.2, 0.3, 0.2, 0.3, 0.2, 0.1,
    0.1, 0.0, -0.1, 0.0, -0.1, -0.2, -0.1, -0.3, -0.2, -0.3, -0.3, -0.4, -0.5,
    -0.3,
]

panel_labels = ["\u03b1<sub>WB</sub> = 1.68", "\u03b1<sub>WB</sub> = 2.0"]
site_label = "San Vittore"
series_names = ["EBC<sub>TR</sub>", "EBC<sub>WB</sub>"]

for arr in (wb_hi_168, wb_typ_168, wb_lo_168, tr_hi_168, tr_typ_168, tr_lo_168,
            wb_hi_20, wb_typ_20, wb_lo_20, tr_hi_20, tr_typ_20, tr_lo_20):
    assert len(arr) == 261, len(arr)

# ---------------- styling ----------------
PURPLE = "rgba(84,0,98,0.70)"
ORANGE = "rgba(255,165,0,0.70)"
FONT = "Liberation Sans, Arial, sans-serif"
W, H = 979, 762
ML, MR, MT, MB = 124, 0, 47, 114
PW, PH = W - ML - MR, H - MT - MB

weeks = pd.date_range(start_date, periods=len(wb_hi_168), freq="7D")
half_weeks = weeks + pd.Timedelta(hours=84)


def spiky(peak, valley):
    """edge alternating between the weekly peak and the typical level half a week later"""
    xs, ys = [], []
    for t0, t1, p, v in zip(weeks, half_weeks, peak, valley):
        xs += [t0, t1]
        ys += [p, v]
    return xs, ys


fig = go.Figure()
panels = [("x", "y", tr_hi_168, tr_typ_168, tr_lo_168, wb_hi_168, wb_typ_168, wb_lo_168),
          ("x2", "y2", tr_hi_20, tr_typ_20, tr_lo_20, wb_hi_20, wb_typ_20, wb_lo_20)]
for xa, ya, trh, trt, trl, wbh, wbt, wbl in panels:
    # EBC_TR band: spiky lower edge (negative spikes), weekly maximum upper edge
    lx, ly = spiky(trl, trt)
    fig.add_trace(go.Scatter(x=lx, y=ly, mode="lines", line=dict(color=PURPLE, width=0.5),
                             xaxis=xa, yaxis=ya, showlegend=False, hoverinfo="skip"))
    fig.add_trace(go.Scatter(x=weeks, y=trh, mode="lines", fill="tonexty", fillcolor=PURPLE,
                             line=dict(color=PURPLE, width=0.5),
                             xaxis=xa, yaxis=ya, showlegend=False, hoverinfo="skip"))
    # EBC_WB band: weekly minimum lower edge, spiky upper edge
    fig.add_trace(go.Scatter(x=weeks, y=wbl, mode="lines", line=dict(color=ORANGE, width=0.5),
                             xaxis=xa, yaxis=ya, showlegend=False, hoverinfo="skip"))
    ux, uy = spiky(wbh, wbt)
    fig.add_trace(go.Scatter(x=ux, y=uy, mode="lines", fill="tonexty", fillcolor=ORANGE,
                             line=dict(color=ORANGE, width=0.5),
                             xaxis=xa, yaxis=ya, showlegend=False, hoverinfo="skip"))

# legend entries (line keys)
for name, col in zip(series_names, [PURPLE, ORANGE]):
    fig.add_trace(go.Scatter(x=[None], y=[None], mode="lines", name=name + " ",
                             line=dict(color=col, width=2.2), xaxis="x2", yaxis="y2"))

top_dom = [(H - MB - 342) / PH, 1.0]
bot_dom = [0.0, (H - MB - 353) / PH]

xrange = ["2013-10-12", "2019-03-05"]
yrange = [-11.2, 18.7]
grid_major = "#EBEBEB"
grid_minor = "#F3F3F3"
TICKFONT = dict(family=FONT, size=17, color="#4D4D4D")

common_x = dict(range=xrange, type="date", tick0="2014-01-01", dtick="M24",
                tickformat="%Y", showgrid=True, gridcolor=grid_major, gridwidth=1.6,
                minor=dict(dtick="M12", tick0="2014-01-01", showgrid=True,
                           gridcolor=grid_minor, gridwidth=1.0),
                zeroline=False, showline=False,
                ticks="outside", ticklen=4, tickcolor="rgba(0,0,0,0)",
                tickfont=TICKFONT)
common_y = dict(range=yrange, tick0=0, dtick=10, showgrid=True,
                gridcolor=grid_major, gridwidth=1.6,
                minor=dict(dtick=5, tick0=0, showgrid=True, gridcolor=grid_minor, gridwidth=1.0),
                zeroline=False, showline=False,
                ticks="outside", ticklen=45, tickcolor="rgba(0,0,0,0)",
                tickfont=TICKFONT)

fig.update_layout(
    width=W, height=H,
    margin=dict(l=ML, r=MR, t=MT, b=MB, autoexpand=False),
    paper_bgcolor="white", plot_bgcolor="white",
    font=dict(family=FONT, color="black"),
    xaxis=dict(common_x, domain=[0, 1], anchor="y", showticklabels=False),
    yaxis=dict(common_y, domain=top_dom, anchor="x"),
    xaxis2=dict(common_x, domain=[0, 1], anchor="y2", matches="x"),
    yaxis2=dict(common_y, domain=bot_dom, anchor="x2"),
    showlegend=True,
    legend=dict(orientation="h", traceorder="normal", x=(558 - ML) / PW, xanchor="center",
                y=(H - MB - 748) / PH, yanchor="middle",
                title=dict(text="EBC component ", side="left",
                           font=dict(family=FONT, size=21, color="black")),
                font=dict(family=FONT, size=17, color="black"),
                itemwidth=30, bgcolor="rgba(0,0,0,0)"),
)

LINE = dict(color="#333333", width=1)
strip_left = (86 - ML) / PW
shapes = []
shapes.append(dict(type="line", xref="x domain", yref="y", x0=0, x1=1, y0=0, y1=0,
                   line=dict(color="black", width=1), layer="above"))
shapes.append(dict(type="line", xref="x2 domain", yref="y2", x0=0, x1=1, y0=0, y1=0,
                   line=dict(color="black", width=1), layer="above"))
for dom in (top_dom, bot_dom):
    shapes.append(dict(type="rect", xref="paper", yref="paper", x0=0, x1=1.02,
                       y0=dom[0], y1=dom[1], line=LINE, fillcolor="rgba(0,0,0,0)", layer="above"))
    shapes.append(dict(type="rect", xref="paper", yref="paper", x0=strip_left, x1=0,
                       y0=dom[0], y1=dom[1], line=LINE, fillcolor="white", layer="above"))
shapes.append(dict(type="rect", xref="paper", yref="paper", x0=0, x1=1.02,
                   y0=1.0, y1=(H - MB - 12) / PH, line=LINE, fillcolor="white", layer="above"))
fig.update_layout(shapes=shapes)

ann = []
ann.append(dict(text=site_label, xref="paper", yref="paper", x=(555 - ML) / PW,
                y=(H - MB - 29) / PH, showarrow=False, xanchor="center", yanchor="middle",
                font=dict(family=FONT, size=17, color="#1A1A1A")))
for lab, dom in zip(panel_labels, (top_dom, bot_dom)):
    ann.append(dict(text=lab, xref="paper", yref="paper", x=(105 - ML) / PW,
                    y=(dom[0] + dom[1]) / 2, showarrow=False, textangle=-90,
                    xanchor="center", yanchor="middle",
                    font=dict(family=FONT, size=17, color="#1A1A1A")))
ann.append(dict(text="EBC (\u03bcg m<sup>\u22123</sup>)", xref="paper", yref="paper",
                x=(20 - ML) / PW, y=0.5, showarrow=False, textangle=-90,
                xanchor="center", yanchor="middle",
                font=dict(family=FONT, size=21, color="black")))
ann.append(dict(text="Date", xref="paper", yref="paper", x=(557 - ML) / PW,
                y=(H - MB - 688) / PH, showarrow=False, xanchor="center", yanchor="middle",
                font=dict(family=FONT, size=21, color="black")))
fig.update_layout(annotations=ann)

fig.write_html("out.html", config={"displayModeBar": False},
               post_script="document.body.style.margin='0';")
